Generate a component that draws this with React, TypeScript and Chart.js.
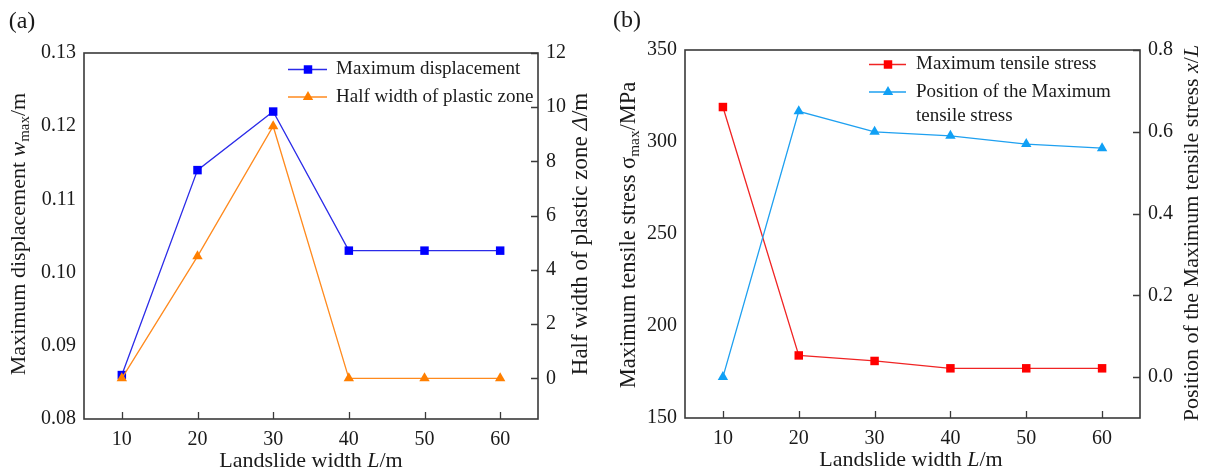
import React, { useEffect, useRef } from "react";
import { Chart, registerables } from "chart.js";

Chart.register(...registerables);

// ---------- data ----------
const landslideWidths = [10, 20, 30, 40, 50, 60];
const maxDisplacement = [0.086, 0.114, 0.122, 0.103, 0.103, 0.103];
const halfWidthPlastic = [0, 4.5, 9.3, 0, 0, 0];
const maxTensileStress = [319, 184, 181, 177, 177, 177];
const positionMaxStress = [0.0, 0.65, 0.6, 0.59, 0.57, 0.56];

const xTickValues = [10, 20, 30, 40, 50, 60];
const aLeftTicks = [0.08, 0.09, 0.1, 0.11, 0.12, 0.13];
const aRightTicks = [0, 2, 4, 6, 8, 10, 12];
const bLeftTicks = [150, 200, 250, 300, 350];
const bRightTicks = [0, 0.2, 0.4, 0.6, 0.8];

const seriesNamesA = ["Maximum displacement", "Half width of plastic zone"];
const seriesNamesB = ["Maximum tensile stress", "Position of the Maximum\ntensile stress"];

// ---------- drawing helpers ----------
type Seg = { t: string; i?: boolean; sub?: boolean };
const FONT = '"Liberation Serif", "Times New Roman", serif';
const AXIS = "#3a3a3a";
const TXT = "#1a1a1a";

function segFont(s: Seg, size: number) {
  const sz = s.sub ? size * 0.68 : size;
  return `${s.i ? "italic " : ""}${sz}px ${FONT}`;
}

function drawRich(ctx: CanvasRenderingContext2D, segs: Seg[], cx: number, cy: number, size: number, rot: number) {
  ctx.save();
  ctx.translate(cx, cy);
  if (rot) ctx.rotate(rot);
  let total = 0;
  const widths = segs.map((s) => {
    ctx.font = segFont(s, size);
    const w = ctx.measureText(s.t).width;
    total += w;
    return w;
  });
  let x = -total / 2;
  ctx.textBaseline = "middle";
  ctx.textAlign = "left";
  ctx.fillStyle = TXT;
  segs.forEach((s, k) => {
    ctx.font = segFont(s, size);
    ctx.fillText(s.t, x, s.sub ? size * 0.28 : 0);
    x += widths[k];
  });
  ctx.restore();
}

function drawMarker(ctx: CanvasRenderingContext2D, style: string, x: number, y: number, r: number, color: string) {
  ctx.save();
  ctx.fillStyle = color;
  ctx.beginPath();
  if (style === "rect") {
    const s = r * Math.SQRT1_2;
    ctx.rect(x - s, y - s, 2 * s, 2 * s);
  } else {
    let rad = 0;
    ctx.moveTo(x + Math.sin(rad) * r, y - Math.cos(rad) * r);
    rad += (2 * Math.PI) / 3;
    ctx.lineTo(x + Math.sin(rad) * r, y - Math.cos(rad) * r);
    rad += (2 * Math.PI) / 3;
    ctx.lineTo(x + Math.sin(rad) * r, y - Math.cos(rad) * r);
    ctx.closePath();
  }
  ctx.fill();
  ctx.restore();
}

type SeriesDef = {
  label: string;
  values: number[];
  axis: "y" | "y1";
  line: string;
  point: string;
  style: string;
  radius: number;
  order: number;
};

type PanelDef = {
  width: number;
  height: number;
  top: number;
  leftW: number;
  rightW: number;
  xH: number;
  xMin: number;
  xMax: number;
  left: { min: number; max: number; ticks: number[]; dec: number };
  right: { min: number; max: number; ticks: number[]; dec: number };
  series: SeriesDef[];
  leftTitle: Seg[];
  rightTitle: Seg[];
  xTitle: Seg[];
  leftTitlePos: [number, number, number];
  rightTitlePos: [number, number, number];
  xTitlePos: [number, number];
  panelLabel: string;
  panelPos: [number, number];
  legend: { x0: number; x1: number; xm: number; tx: number; ys: number[]; lineGap: number; size: number };
};

function makeChart(canvas: HTMLCanvasElement, p: PanelDef) {
  const decor = {
    id: "decor",
    afterDraw(chart: any) {
      const ctx: CanvasRenderingContext2D = chart.ctx;
      const a = chart.chartArea;
      ctx.save();
      // frame
      ctx.strokeStyle = AXIS;
      ctx.lineWidth = 1.6;
      ctx.strokeRect(a.left, a.top, a.right - a.left, a.bottom - a.top);
      // inward ticks
      const xs = chart.scales.x;
      ctx.beginPath();
      xs.ticks.forEach((t: any) => {
        const px = Math.round(xs.getPixelForValue(t.value)) + 0.5;
        ctx.moveTo(px, a.bottom);
        ctx.lineTo(px, a.bottom - 7);
      });
      const yr = chart.scales.y1;
      yr.ticks.forEach((t: any) => {
        const py = Math.round(yr.getPixelForValue(t.value)) + 0.5;
        ctx.moveTo(a.right, py);
        ctx.lineTo(a.right - 7, py);
      });
      ctx.lineWidth = 1.3;
      ctx.stroke();
      // titles
      drawRich(ctx, p.leftTitle, p.leftTitlePos[0], p.leftTitlePos[1], p.leftTitlePos[2], -Math.PI / 2);
      drawRich(ctx, p.rightTitle, p.rightTitlePos[0], p.rightTitlePos[1], p.rightTitlePos[2], -Math.PI / 2);
      drawRich(ctx, p.xTitle, p.xTitlePos[0], p.xTitlePos[1], 22, 0);
      drawRich(ctx, [{ t: p.panelLabel }], p.panelPos[0], p.panelPos[1], 24, 0);
      // legend
      const lg = p.legend;
      p.series.forEach((s, k) => {
        const y = lg.ys[k];
        ctx.strokeStyle = s.line;
        ctx.lineWidth = 1.3;
        ctx.beginPath();
        ctx.moveTo(lg.x0, y);
        ctx.lineTo(lg.x1, y);
        ctx.stroke();
        drawMarker(ctx, s.style, lg.xm, y, s.radius, s.point);
        ctx.fillStyle = TXT;
        ctx.font = `${lg.size}px ${FONT}`;
        ctx.textAlign = "left";
        ctx.textBaseline = "middle";
        s.label.split("\n").forEach((ln, j) => {
          ctx.fillText(ln, lg.tx, y + j * lg.lineGap);
        });
      });
      ctx.restore();
    },
  };

  const tickFont = { family: FONT, size: 20 };
  const yScale = (def: { min: number; max: number; ticks: number[]; dec: number }, pos: string, w: number) => ({
    type: "linear",
    position: pos,
    min: def.min,
    max: def.max,
    grid: { display: false },
    border: { display: false },
    ticks: {
      font: tickFont,
      color: TXT,
      padding: 0,
      callback: (v: number) => v.toFixed(def.dec),
    },
    afterBuildTicks: (scale: any) => {
      scale.ticks = def.ticks.map((v) => ({ value: v }));
    },
    afterFit: (scale: any) => {
      scale.width = w;
    },
  });

  return new Chart(canvas, {
    type: "line",
    data: {
      datasets: p.series.map((s) => ({
        label: s.label,
        data: landslideWidths.map((x, i) => ({ x, y: s.values[i] })),
        yAxisID: s.axis,
        borderColor: s.line,
        backgroundColor: s.point,
        pointBackgroundColor: s.point,
        pointBorderColor: s.point,
        pointBorderWidth: 0,
        pointStyle: s.style,
        pointRadius: s.radius,
        borderWidth: 1.3,
        tension: 0,
        order: s.order,
      })),
    },
    options: {
      responsive: false,
      animation: false,
      devicePixelRatio: 1,
      layout: { padding: { top: p.top, left: 0, right: 0, bottom: 0 } },
      plugins: { legend: { display: false }, tooltip: { enabled: false }, title: { display: false } },
      scales: {
        x: {
          type: "linear",
          position: "bottom",
          min: p.xMin,
          max: p.xMax,
          grid: { display: false },
          border: { display: false },
          ticks: { font: tickFont, color: TXT, padding: 1, callback: (v: number) => String(v) },
          afterBuildTicks: (scale: any) => {
            scale.ticks = xTickValues.map((v) => ({ value: v }));
          },
          afterFit: (scale: any) => {
            scale.height = p.xH;
          },
        },
        y: yScale(p.left, "left", p.leftW),
        y1: yScale(p.right, "right", p.rightW),
      },
    } as any,
    plugins: [decor],
  } as any);
}

const panelA: PanelDef = {
  width: 600,
  height: 474,
  top: 53,
  leftW: 84,
  rightW: 62,
  xH: 55,
  xMin: 5,
  xMax: 65,
  left: { min: 0.08, max: 0.13, ticks: aLeftTicks, dec: 2 },
  right: { min: -1.5, max: 12, ticks: aRightTicks, dec: 0 },
  series: [
    { label: seriesNamesA[0], values: maxDisplacement, axis: "y", line: "#2b2be8", point: "#0000ff", style: "rect", radius: 6, order: 1 },
    { label: seriesNamesA[1], values: halfWidthPlastic, axis: "y1", line: "#ff8a1e", point: "#ff7f00", style: "triangle", radius: 6, order: 0 },
  ],
  leftTitle: [{ t: "Maximum displacement " }, { t: "w", i: true }, { t: "max", sub: true }, { t: "/m" }],
  rightTitle: [{ t: "Half width of plastic zone " }, { t: "Δ", i: true }, { t: "/m" }],
  xTitle: [{ t: "Landslide width " }, { t: "L", i: true }, { t: "/m" }],
  leftTitlePos: [19, 234, 22],
  rightTitlePos: [581, 234, 23],
  xTitlePos: [311, 461],
  panelLabel: "(a)",
  panelPos: [22, 22],
  legend: { x0: 288, x1: 327, xm: 308, tx: 336, ys: [69.5, 97], lineGap: 24, size: 19 },
};

const panelB: PanelDef = {
  width: 606,
  height: 474,
  top: 50,
  leftW: 85,
  rightW: 66,
  xH: 56,
  xMin: 5,
  xMax: 65,
  left: { min: 150, max: 350, ticks: bLeftTicks, dec: 0 },
  right: { min: -0.1, max: 0.8, ticks: bRightTicks, dec: 1 },
  series: [
    { label: seriesNamesB[0], values: maxTensileStress, axis: "y", line: "#f02424", point: "#ff0000", style: "rect", radius: 6, order: 1 },
    { label: seriesNamesB[1], values: positionMaxStress, axis: "y1", line: "#1ea0f0", point: "#10a0f5", style: "triangle", radius: 6, order: 0 },
  ],
  leftTitle: [{ t: "Maximum tensile stress σ" }, { t: "max", sub: true }, { t: "/MPa" }],
  rightTitle: [{ t: "Position of the Maximum tensile stress " }, { t: "x", i: true }, { t: "/" }, { t: "L", i: true }],
  xTitle: [{ t: "Landslide width " }, { t: "L", i: true }, { t: "/m" }],
  leftTitlePos: [29, 235, 22.5],
  rightTitlePos: [592, 233, 22],
  xTitlePos: [311, 460],
  panelLabel: "(b)",
  panelPos: [27, 21],
  legend: { x0: 269, x1: 306, xm: 288, tx: 316, ys: [64.5, 92], lineGap: 24, size: 19 },
};

export default function App() {
  const refA = useRef<HTMLCanvasElement>(null);
  const refB = useRef<HTMLCanvasElement>(null);
  useEffect(() => {
    const ca = makeChart(refA.current!, panelA);
    const cb = makeChart(refB.current!, panelB);
    return () => {
      ca.destroy();
      cb.destroy();
    };
  }, []);
  return (
    <div style={{ position: "absolute", left: 0, top: 0, width: 1206, height: 474, background: "#fff" }}>
      <canvas ref={refA} width={600} height={474} style={{ position: "absolute", left: 0, top: 0, width: 600, height: 474 }} />
      <canvas ref={refB} width={606} height={474} style={{ position: "absolute", left: 600, top: 0, width: 606, height: 474 }} />
    </div>
  );
}
